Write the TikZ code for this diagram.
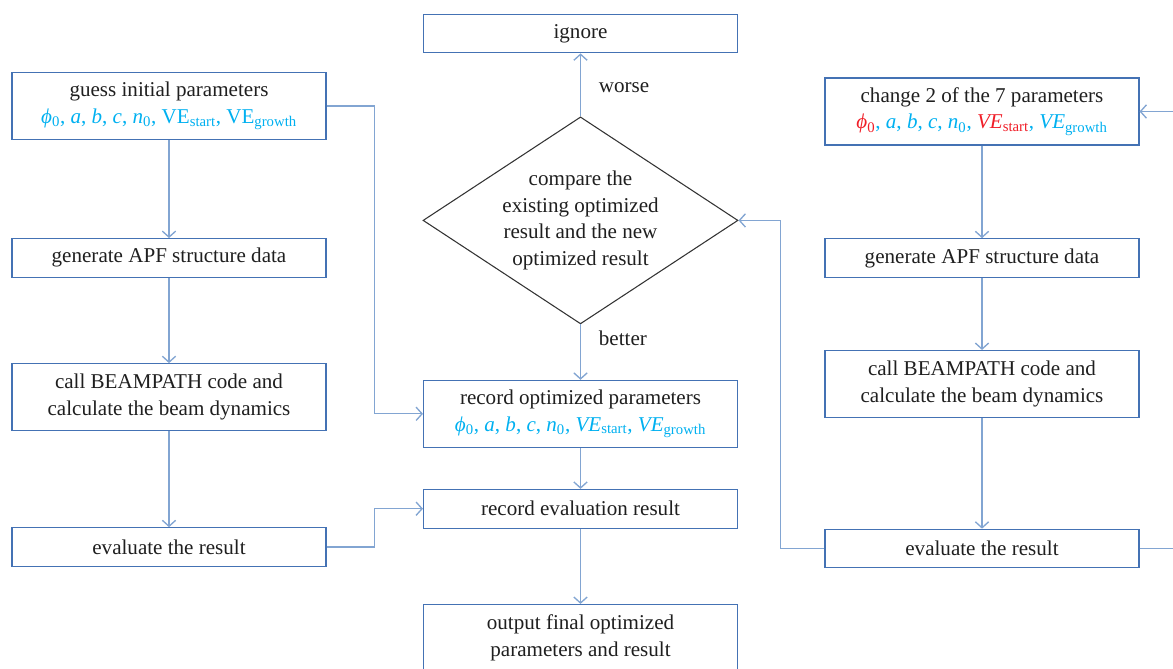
\documentclass[tikz,border=0pt]{standalone}
\usepackage{fontspec}
\setmainfont{Liberation Serif}
\usetikzlibrary{arrows.meta,positioning,shapes.geometric}
\usepackage{xcolor}
\definecolor{boxblue}{RGB}{68,114,180}
\definecolor{linkblue}{RGB}{130,165,210}
\definecolor{parcyan}{RGB}{0,176,240}
\definecolor{parred}{RGB}{240,30,40}
\newcommand{\sbs}[1]{\textsubscript{#1}}

\begin{document}
\begin{tikzpicture}[
  x=0.75pt, y=-0.75pt,
  font=\fontsize{15.8}{20}\selectfont,
  box/.style={draw=boxblue, line width=0.8pt, align=center, inner sep=3pt,
    minimum width=235.5pt, minimum height=29pt, text=black!88},
  tallbox/.style={box, minimum height=50.25pt},
  decide/.style={diamond, draw=black!80, line width=0.8pt, aspect=1.52,
    minimum width=236.25pt, minimum height=155.25pt, inner sep=0pt,
    align=center, text=black!88},
  link/.style={draw=linkblue, line width=1pt},
  arrow/.style={link, -{Straight Barb[length=4.5pt,width=10pt]}}
]
\useasboundingbox (0,0) rectangle (1173,668);
\clip (0,0) rectangle (1173,668);

% left column
\node[tallbox] (guess) at (169,106) {guess initial parameters\\
  \color{parcyan}\textit{ϕ}\sbs{0}, \textit{a}, \textit{b}, \textit{c}, \textit{n}\sbs{0}, VE\sbs{start}, VE\sbs{growth}};
\node[box, below=73.5pt of guess] (lgen) {generate APF structure data};
\node[tallbox, below=64pt of lgen] (lcall) {call BEAMPATH code and\\calculate the beam dynamics};
\node[box, below=72pt of lcall] (leval) {evaluate the result};

% middle column
\node[box] (ignore) at (580.5,33.5) {ignore};
\node[decide, below=47.25pt of ignore] (cmp) {compare the\\existing optimized\\result and the new\\optimized result};
\node[tallbox, below=41.5pt of cmp] (recopt) {record optimized parameters\\
  \color{parcyan}\textit{ϕ}\sbs{0}, \textit{a}, \textit{b}, \textit{c}, \textit{n}\sbs{0}, \textit{VE}\sbs{start}, \textit{VE}\sbs{growth}};
\node[box, below=30.75pt of recopt] (receval) {record evaluation result};
\node[tallbox, below=56.5pt of receval] (output) {output final optimized\\parameters and result};

% right column
\node[tallbox] (change) at (982,111.5) {change 2 of the 7 parameters\\
  {\color{parred}\textit{ϕ}\sbs{0}}{\color{parcyan}, \textit{a}, \textit{b}, \textit{c}, \textit{n}\sbs{0}, }{\color{parred}\textit{VE}\sbs{start}}{\color{parcyan}, \textit{VE}\sbs{growth}}};
\node[box, below=69.5pt of change] (rgen) {generate APF structure data};
\node[tallbox, below=54pt of rgen] (rcall) {call BEAMPATH code and\\calculate the beam dynamics};
\node[box, below=83pt of rcall] (reval) {evaluate the result};

\path (change.east) ++(40,0) coordinate (edgein);
\path (reval.east) ++(40,0) coordinate (edgeout);

\draw[arrow] (guess) -- (lgen);
\draw[arrow] (lgen) -- (lcall);
\draw[arrow] (lcall) -- (leval);
\draw[arrow] (guess.east) -- ++(48,0) |- (recopt.west);
\draw[arrow] (leval.east) -- ++(48,0) |- (receval.west);

\draw[arrow] (cmp.north) -- node[pos=0.45, right=10pt, text=black!88] {worse} (ignore.south);
\draw[arrow] (cmp.south) -- node[pos=0.25, right=10pt, text=black!88] {better} (recopt.north);
\draw[arrow] (recopt) -- (receval);
\draw[arrow] (receval) -- (output);

\draw[arrow] (edgein) -- (change.east);
\draw[arrow] (change) -- (rgen);
\draw[arrow] (rgen) -- (rcall);
\draw[arrow] (rcall) -- (reval);
\draw[arrow] (reval.west) -- ++(-44,0) |- (cmp.east);
\draw[link] (reval.east) -- (edgeout);

\end{tikzpicture}
\end{document}
